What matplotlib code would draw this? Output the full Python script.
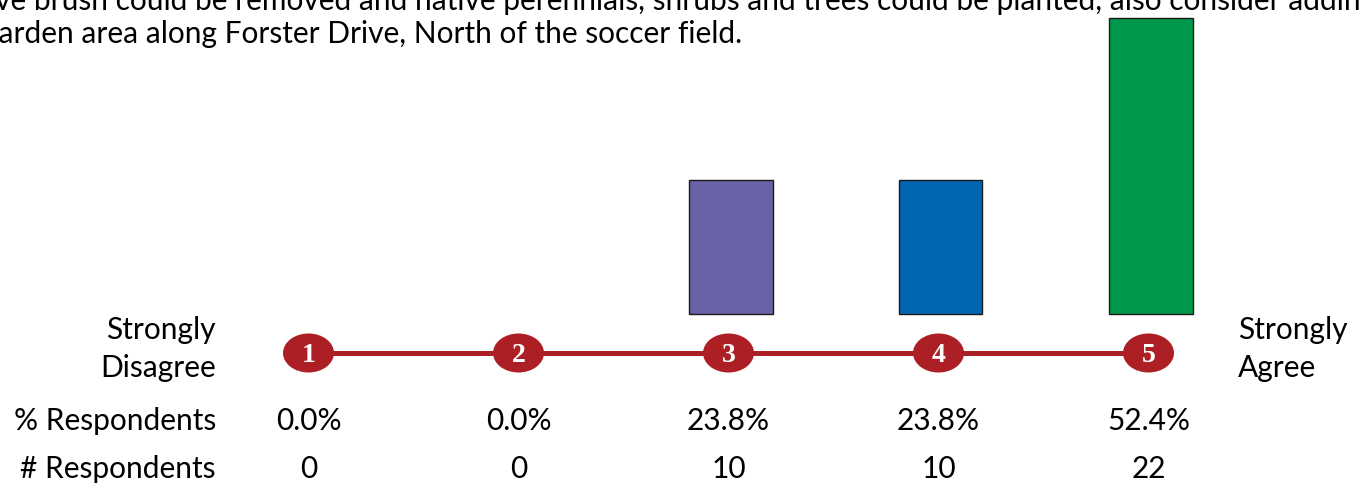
import matplotlib
matplotlib.use("Agg")
import matplotlib.pyplot as plt
import matplotlib.transforms as mtransforms
from matplotlib.patches import Ellipse

# survey data
scale_points = [1, 2, 3, 4, 5]
pct_respondents = [0.0, 0.0, 23.8, 23.8, 52.4]
num_respondents = [0, 0, 10, 10, 22]
bar_colors = ["#6862A6", "#6862A6", "#6862A6", "#0066B3", "#00984A"]
left_end_label = "Strongly\nDisagree"
right_end_label = "Strongly\nAgree"
row_labels = ["% Respondents", "# Respondents"]
question_lines = [
    "ive brush could be removed and native perennials, shrubs and trees could be planted, also consider adding",
    "garden area along Forster Drive, North of the soccer field.",
]

W, H, DPI = 1361, 489, 100
plt.rcParams["font.family"] = ["Lato", "DejaVu Sans"]

fig = plt.figure(figsize=(W / DPI, H / DPI), dpi=DPI)
ax = fig.add_axes([0, 0, 1, 1])
ax.axis("off")

# x: category units, 210 px apart, point 1 at px 308.5
px_per_cat = 210.0
x0_px = 308.5
ax.set_xlim(1 - x0_px / px_per_cat, 1 + (W - x0_px) / px_per_cat)
# y: percent, baseline at 315 px from top
px_per_pct = 5.65
base_px = H - 315
ax.set_ylim(-base_px / px_per_pct, (H - base_px) / px_per_pct)

bar_x = [x + 2 / px_per_cat for x in scale_points]
edge_w = [1.0 if p > 0 else 0 for p in pct_respondents]
ax.bar(bar_x, pct_respondents, width=84 / px_per_cat, color=bar_colors,
       edgecolor="#1a1a1a", linewidth=edge_w, zorder=2)

# x in data units, y in figure fraction for the scale and text rows
tr = mtransforms.blended_transform_factory(ax.transData, fig.transFigure)


def fy(px_from_top):
    return 1 - px_from_top / H


line_y = fy(354)
ax.plot([scale_points[0], scale_points[-1]], [line_y, line_y], color="#AC1F24",
        linewidth=3.6, transform=tr, zorder=3, solid_capstyle="butt")
for x in scale_points:
    ax.add_patch(Ellipse((x, line_y), 51 / px_per_cat, 39 / H, transform=tr,
                         facecolor="#AC1F24", edgecolor="none", zorder=4))
    ax.text(x, line_y - 0.004, str(x), transform=tr, ha="center", va="center",
            color="white", fontsize=20, fontweight="bold",
            family="Liberation Serif", zorder=5)

fs = 21.5
for x, p, n in zip(scale_points, pct_respondents, num_respondents):
    ax.text(x, fy(421), f"{p:.1f}%", transform=tr, ha="center", va="center", fontsize=fs)
    ax.text(x, fy(469), f"{n}", transform=tr, ha="center", va="center", fontsize=fs)

fx_right = 216 / W
fig.text(fx_right, fy(349), left_end_label, ha="right", va="center", fontsize=fs,
         linespacing=1.45)
fig.text(1238 / W, fy(349), right_end_label, ha="left", va="center", fontsize=fs,
         linespacing=1.45)
fig.text(fx_right, fy(421), row_labels[0], ha="right", va="center", fontsize=fs)
fig.text(fx_right, fy(469), row_labels[1], ha="right", va="center", fontsize=fs)

fig.text(-12 / W, fy(1), question_lines[0], ha="left", va="center", fontsize=fs)
fig.text(-17 / W, fy(34), question_lines[1], ha="left", va="center", fontsize=fs)

fig.savefig("out.png", dpi=DPI, facecolor="white")
